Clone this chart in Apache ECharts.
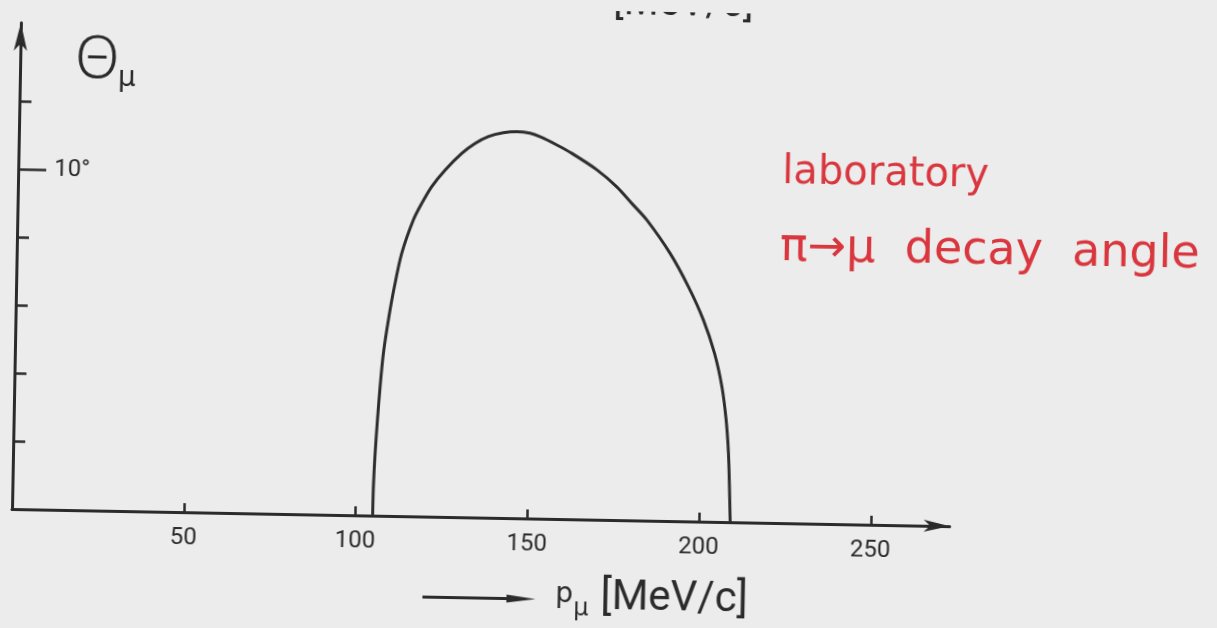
<!DOCTYPE html>
<html>
<head>
<meta charset="utf-8">
<script src="https://cdn.jsdelivr.net/npm/echarts@6/dist/echarts.min.js"></script>
<style>
  html, body { margin: 0; padding: 0; background: #ececec; overflow: hidden; }
  #chart { position: absolute; left: 0; top: 0; width: 1217px; height: 628px;
           transform: rotate(1.05deg); transform-origin: 12px 509px; }
</style>
</head>
<body>
<div id="chart"></div>
<script>
// ---- data ----
// muon momentum p_mu [MeV/c]
const pMu = [105.0, 105.07, 105.39, 105.89, 106.49, 107.27, 108.54, 110.11, 112.08, 115.29, 117.64, 120.47, 124.25,
             129.03, 132.84, 136.68, 141.02, 144.92,
             148.79, 151.73, 156.62, 161.05, 168.41, 174.32, 178.78, 183.23, 190.19, 195.69, 200.23, 203.64,
             205.97, 207.39, 208.24, 208.70, 209.1];
// laboratory decay angle Theta_mu [deg]
const thetaMu = [0, 0.85, 1.83, 2.81, 3.80, 4.78, 5.76, 6.74, 7.73, 8.72, 9.21, 9.71, 10.20,
                 10.70, 11.0, 11.21, 11.33, 11.37,
                 11.33, 11.23, 11.0, 10.76, 10.29, 9.80, 9.32, 8.84, 7.87, 6.90, 5.93, 4.96,
                 3.98, 3.00, 2.02, 1.04, 0];
const xTickValues = [50, 100, 150, 200, 250];
const yTickValues = [2, 4, 6, 8, 10, 12];
const yLabelValues = [10];

const ink = '#2b2b2b';
const red = '#d9363e';
const chart = echarts.init(document.getElementById('chart'), null, { renderer: 'canvas' });

const curve = pMu.map((p, i) => [p, thetaMu[i]]);

chart.setOption({
  backgroundColor: '#ececec',
  animation: false,
  grid: { left: 12, top: 22.8, width: 937.8, height: 486.2, containLabel: false },
  xAxis: {
    type: 'value', min: 0, max: 273,
    axisLine: { show: true, symbol: ['none', 'arrow'], symbolSize: [9, 26], lineStyle: { color: ink, width: 3 } },
    axisTick: { show: true, inside: true, length: 9, customValues: xTickValues, lineStyle: { color: ink, width: 2.5 } },
    axisLabel: { show: true, customValues: xTickValues, margin: 14, color: ink, fontFamily: 'Roboto', fontSize: 24 },
    splitLine: { show: false }
  },
  yAxis: [{
    type: 'value', min: 0, max: 14.3,
    axisLine: { show: true, symbol: ['none', 'arrow'], symbolSize: [10, 28], lineStyle: { color: ink, width: 3 } },
    axisTick: { show: true, inside: true, length: 12, customValues: yTickValues, lineStyle: { color: ink, width: 2.5 } },
    axisLabel: { show: false },
    splitLine: { show: false }
  }, {
    type: 'value', min: 0, max: 14.3, position: 'left', offset: 0,
    axisLine: { show: false },
    axisTick: { show: true, inside: true, length: 28, customValues: yLabelValues, lineStyle: { color: ink, width: 2.5 } },
    axisLabel: { show: true, inside: true, margin: 36, customValues: yLabelValues, formatter: '{value}°',
                 color: ink, fontFamily: 'Roboto', fontSize: 24 },
    splitLine: { show: false }
  }],
  series: [{
    type: 'line', xAxisIndex: 0, yAxisIndex: 0, data: curve,
    showSymbol: false, smooth: 0.3,
    lineStyle: { color: '#2e2e2e', width: 3 }
  }],
  graphic: [
    // Theta_mu axis title
    { type: 'text', x: 89, y: 59, style: { text: 'Θ', fill: ink, fontFamily: 'Noto Sans', fontWeight: 300, fontSize: 58,
      align: 'center', verticalAlign: 'middle', textAlign: 'center', textVerticalAlign: 'middle' } },
    { type: 'text', x: 110, y: 77, style: { text: 'μ', fill: ink, fontFamily: 'DejaVu Sans', fontSize: 28,
      align: 'left', verticalAlign: 'middle', textAlign: 'left', textVerticalAlign: 'middle' } },
    // x axis title: arrow, p_mu [MeV/c]
    { type: 'line', shape: { x1: 424, y1: 589.5, x2: 515, y2: 589.5 }, style: { stroke: ink, lineWidth: 3 } },
    { type: 'polygon', shape: { points: [[508, 585.5], [537, 589.5], [508, 593.5]] }, style: { fill: ink } },
    { type: 'text', x: 556.7, y: 584.6, style: { text: 'p', fill: ink, fontFamily: 'DejaVu Sans', fontSize: 28,
      align: 'left', verticalAlign: 'middle', textAlign: 'left', textVerticalAlign: 'middle' } },
    { type: 'text', x: 575, y: 599, style: { text: 'μ', fill: ink, fontFamily: 'DejaVu Sans', fontSize: 24,
      align: 'left', verticalAlign: 'middle', textAlign: 'left', textVerticalAlign: 'middle' } },
    { type: 'text', x: 602, y: 587, style: { text: '[MeV/c]', fill: ink, fontFamily: 'Roboto', fontSize: 42,
      align: 'left', verticalAlign: 'middle', textAlign: 'left', textVerticalAlign: 'middle' } },
    // cropped title at the very top
    { type: 'text', x: 604, y: -7, style: { text: '[MeV/c]', fill: ink, fontFamily: 'Roboto', fontSize: 40,
      align: 'left', verticalAlign: 'middle', textAlign: 'left', textVerticalAlign: 'middle' } },
    // red handwritten annotation
    { type: 'text', x: 776, y: 159, style: { text: 'laboratory', fill: red, fontFamily: 'DejaVu Sans', fontSize: 40,
      align: 'left', verticalAlign: 'middle', textAlign: 'left', textVerticalAlign: 'middle' } },
    { type: 'text', x: 775, y: 234, style: { text: 'π→μ  decay  angle', fill: red, fontFamily: 'DejaVu Sans', fontSize: 46,
      align: 'left', verticalAlign: 'middle', textAlign: 'left', textVerticalAlign: 'middle' } }
  ]
});
</script>
</body>
</html>
